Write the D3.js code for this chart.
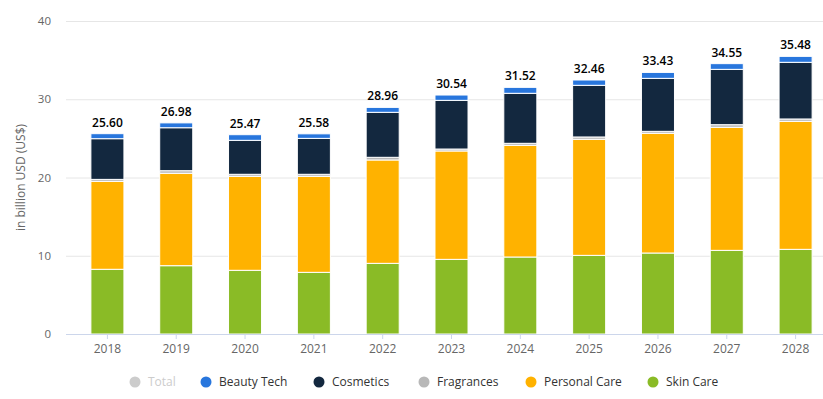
<!DOCTYPE html>
<html>
<head>
<meta charset="utf-8">
<script src="https://cdn.jsdelivr.net/npm/d3@7"></script>
<style>
  body { margin: 0; background: #fff; }
  svg { font-family: "Open Sans", "Liberation Sans", sans-serif; }
</style>
</head>
<body>
<div id="chart"></div>
<script>
const years = ["2018", "2019", "2020", "2021", "2022", "2023", "2024", "2025", "2026", "2027", "2028"];
const skinCare = [8.27, 8.73, 8.14, 7.88, 9.03, 9.54, 9.84, 10.05, 10.35, 10.69, 10.82];
const personalCare = [11.24, 11.81, 12.01, 12.27, 13.21, 13.85, 14.27, 14.83, 15.30, 15.72, 16.36];
const fragrances = [0.25, 0.33, 0.26, 0.26, 0.34, 0.25, 0.26, 0.30, 0.25, 0.34, 0.30];
const cosmetics = [5.20, 5.49, 4.34, 4.59, 5.75, 6.22, 6.39, 6.60, 6.77, 7.07, 7.24];
const beautyTech = [0.64, 0.62, 0.72, 0.58, 0.63, 0.68, 0.76, 0.68, 0.76, 0.73, 0.76];
const totals = [25.60, 26.98, 25.47, 25.58, 28.96, 30.54, 31.52, 32.46, 33.43, 34.55, 35.48];
const yTicks = [0, 10, 20, 30, 40];

// stack order bottom -> top
const series = [
  { name: "Skin Care", values: skinCare, color: "#8abb26" },
  { name: "Personal Care", values: personalCare, color: "#ffb200" },
  { name: "Fragrances", values: fragrances, color: "#b8b8b8" },
  { name: "Cosmetics", values: cosmetics, color: "#13283f" },
  { name: "Beauty Tech", values: beautyTech, color: "#2876dd" }
];
const legendItems = [
  { name: "Total", color: "#cccccc", hidden: true },
  { name: "Beauty Tech", color: "#2876dd" },
  { name: "Cosmetics", color: "#13283f" },
  { name: "Fragrances", color: "#b8b8b8" },
  { name: "Personal Care", color: "#ffb200" },
  { name: "Skin Care", color: "#8abb26" }
];

const width = 823, height = 399;
const margin = { top: 21, right: 0, bottom: 65, left: 66 };

const svg = d3.select("#chart").append("svg")
  .attr("width", width)
  .attr("height", height);

// the band range runs a little past the right edge, like the original
const x = d3.scaleBand()
  .domain(years)
  .range([73, 830])
  .paddingInner(0.52)
  .paddingOuter(0.26);

const y = d3.scaleLinear()
  .domain([0, 40])
  .range([height - margin.bottom, margin.top]);

// grid
svg.append("g")
  .selectAll("line")
  .data(yTicks.filter(d => d > 0))
  .enter().append("line")
  .attr("x1", margin.left)
  .attr("x2", width - margin.right)
  .attr("y1", d => y(d) + 0.5)
  .attr("y2", d => y(d) + 0.5)
  .attr("stroke", "#e6e6e6");

// y tick labels
svg.append("g")
  .selectAll("text")
  .data(yTicks)
  .enter().append("text")
  .attr("x", 51)
  .attr("y", d => y(d))
  .attr("dy", "0.35em")
  .attr("text-anchor", "end")
  .attr("font-size", 11.5)
  .attr("fill", "#666")
  .text(d => d);

svg.append("text")
  .attr("transform", "translate(25," + ((margin.top + height - margin.bottom) / 2) + ") rotate(-90)")
  .attr("text-anchor", "middle")
  .attr("font-size", 12)
  .attr("fill", "#666")
  .text("in billion USD (US$)");

// stacks
const stackData = years.map((yr, i) => {
  const row = { year: yr };
  series.forEach(s => { row[s.name] = s.values[i]; });
  return row;
});
const stacked = d3.stack().keys(series.map(s => s.name))(stackData);

svg.append("g")
  .selectAll("g")
  .data(stacked)
  .enter().append("g")
  .attr("fill", (d, i) => series[i].color)
  .selectAll("rect")
  .data(d => d)
  .enter().append("rect")
  .attr("x", d => x(d.data.year))
  .attr("y", d => y(d[1]))
  .attr("width", x.bandwidth())
  .attr("height", d => y(d[0]) - y(d[1]))
  .attr("stroke", "#fff")
  .attr("stroke-width", 1);

// x axis
const xAxis = svg.append("g")
  .attr("transform", "translate(0," + (height - margin.bottom) + ")");
xAxis.append("line")
  .attr("x1", margin.left)
  .attr("x2", width - margin.right)
  .attr("y1", 0.5)
  .attr("y2", 0.5)
  .attr("stroke", "#ccd6eb");
xAxis.selectAll("line.tick")
  .data(years)
  .enter().append("line")
  .attr("class", "tick")
  .attr("x1", d => x(d) + x.bandwidth() / 2)
  .attr("x2", d => x(d) + x.bandwidth() / 2)
  .attr("y1", 0)
  .attr("y2", 5)
  .attr("stroke", "#ccd6eb");
xAxis.selectAll("text")
  .data(years)
  .enter().append("text")
  .attr("x", d => x(d) + x.bandwidth() / 2)
  .attr("y", 15)
  .attr("dy", "0.35em")
  .attr("text-anchor", "middle")
  .attr("font-size", 12)
  .attr("fill", "#666")
  .text(d => d);

// total labels
svg.append("g")
  .selectAll("text")
  .data(years)
  .enter().append("text")
  .attr("x", d => x(d) + x.bandwidth() / 2)
  .attr("y", (d, i) => y(totals[i]) - 7)
  .attr("text-anchor", "middle")
  .attr("font-size", 12)
  .attr("font-weight", 600)
  .attr("fill", "#000")
  .text((d, i) => totals[i].toFixed(2));

// legend
const legendX = [135, 206, 319, 424, 531, 653];
const legend = svg.append("g")
  .selectAll("g")
  .data(legendItems)
  .enter().append("g")
  .attr("transform", (d, i) => "translate(" + legendX[i] + ",382)");
legend.append("circle")
  .attr("r", 5.5)
  .attr("fill", d => d.color);
legend.append("text")
  .attr("x", 13)
  .attr("dy", "0.35em")
  .attr("font-size", 12)
  .attr("fill", d => d.hidden ? "#cccccc" : "#333")
  .text(d => d.name);
</script>
</body>
</html>
